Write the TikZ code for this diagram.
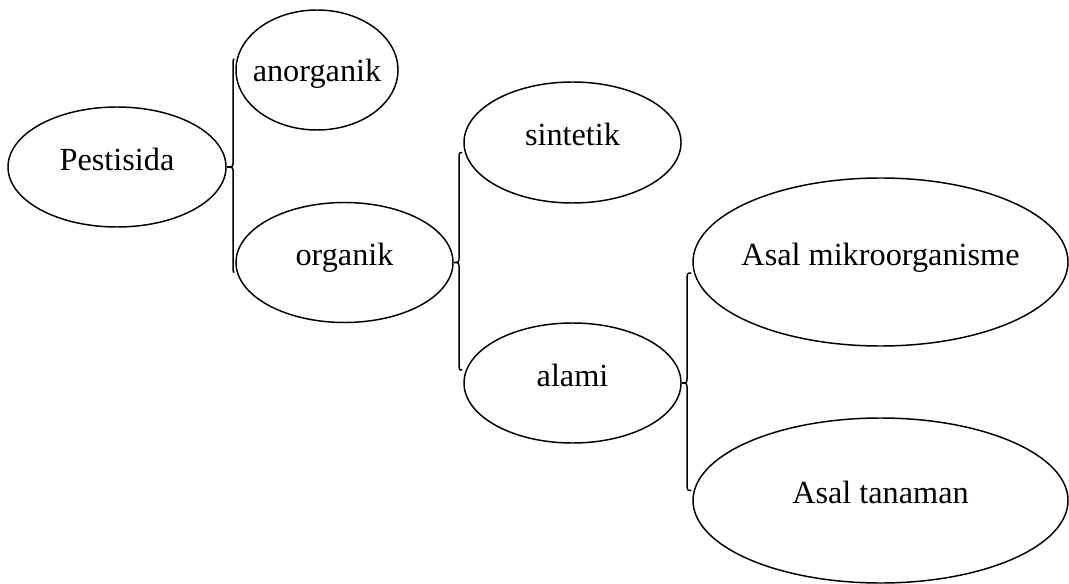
\documentclass[tikz,border=0pt]{standalone}
\usepackage{fontspec}
\setmainfont{Liberation Serif}
\usetikzlibrary{shapes.geometric,calc}
\tikzset{
  ell/.style 2 args={draw, ellipse, line width=1.1pt, inner sep=0pt,
    minimum width=#1, minimum height=#2, text height=16pt, text depth=10.8pt,
    font=\fontsize{24.2}{28}\selectfont},
  lowtext/.style={text height=24pt, text depth=6pt},
  bracelink/.style={draw, line width=1.1pt}
}
\newcommand\bracepath[4]{%
  \path[bracelink] let \p1=(#1), \p2=(#2), \p3=(#3) in
    (\p1) .. controls (\x2+#4, \y1) .. (\x2+#4, \y1-5.5pt)
    -- (\x2+#4, \y2+5.5pt) .. controls (\x2+#4, \y2) .. (\p2)
    .. controls (\x2+#4, \y2) .. (\x2+#4, \y2-5.5pt)
    -- (\x2+#4, \y3+5.5pt) .. controls (\x2+#4, \y3) .. (\p3);}
\begin{document}
\begin{tikzpicture}[x=0.75pt,y=-0.75pt]
\useasboundingbox (0,0) rectangle (1069,584);
\node[ell={163.5pt}{90pt}] (pest) at (117,167) {\makebox[0pt]{Pestisida}};
\node[ell={121.5pt}{90pt}, lowtext] (anorg) at (317,70) {\makebox[0pt]{anorganik}};
\node[ell={162.75pt}{90pt}] (org) at (344.5,262.5) {\makebox[0pt]{organik}};
\node[ell={162.75pt}{90.75pt}] (sint) at (572.5,142.5) {\makebox[0pt]{sintetik}};
\node[ell={162.75pt}{90pt}] (alami) at (572.5,383) {\makebox[0pt]{alami}};
\node[ell={281.25pt}{126pt}] (mikro) at (880.5,262) {\makebox[0pt]{Asal mikroorganisme}};
\node[ell={281.25pt}{123.75pt}] (tanam) at (880.5,500.5) {\makebox[0pt]{Asal tanaman}};
% brace end points
\coordinate (b1t) at ($(anorg.west)+(-1,-11)$);
\coordinate (b1b) at ($(org.west)+(-1,10)$);
\coordinate (b2t) at ($(sint.west)+(-1,10)$);
\coordinate (b2b) at ($(alami.west)+(-1,-13)$);
\coordinate (b3t) at ($(mikro.west)+(-1,11)$);
\coordinate (b3b) at ($(tanam.west)+(-1,-10)$);
\bracepath{b1t}{pest.east}{b1b}{4.8pt}
\bracepath{b2t}{org.east}{b2b}{4pt}
\bracepath{b3t}{alami.east}{b3b}{4pt}
\end{tikzpicture}
\end{document}
